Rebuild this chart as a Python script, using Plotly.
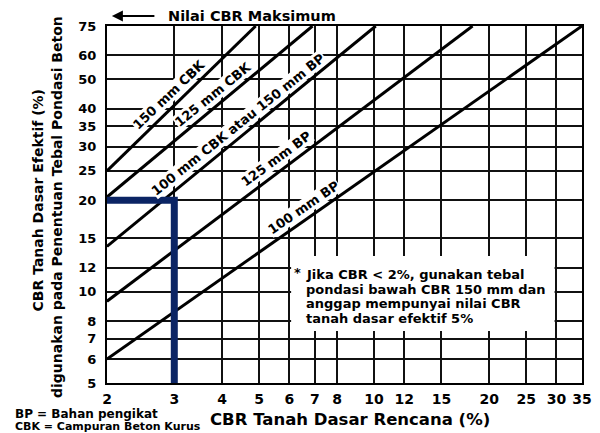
import math
import plotly.graph_objects as go

# Axis tick values (CBR %, logarithmic)
x_ticks = [2, 3, 4, 5, 6, 7, 8, 10, 12, 15, 20, 25, 30, 35]
y_ticks = [5, 6, 7, 8, 10, 12, 15, 20, 25, 30, 35, 40, 50, 60, 75]

# Design lines for sub-base thickness: start at CBR 2 %, end at effective CBR 75 %
line_names = ["150 mm CBK", "125 mm CBK", "100 mm CBK atau 150 mm BP",
              "125 mm BP", "100 mm BP"]
line_x_start = [2, 2, 2, 2, 2]
line_y_start = [25, 20.5, 14.1, 9.3, 6]
line_x_end = [4.9, 6.9, 10.1, 18.1, 35]
line_y_end = [75, 75, 75, 75, 75]
# CBR value (x) along each line where its label sits
label_x = [3.05, 3.95, 4.6, 5.8, 6.8]

# Worked example: design CBR 3 % -> effective CBR 20 %
example_x = [2, 3, 3]
example_y = [20, 20, 5]

note_lines = ["Jika CBR < 2%, gunakan tebal",
              "pondasi bawah CBR 150 mm dan",
              "anggap mempunyai nilai CBR",
              "tanah dasar efektif 5%"]
legend_lines = ["BP = Bahan pengikat", "CBK = Campuran Beton Kurus"]

# Figure geometry (pixels)
FW, FH = 600, 433
ML, MR, MT, MB = 107, 8, 26, 50
PW, PH = FW - ML - MR, FH - MT - MB
XR = [math.log10(2), math.log10(35)]
YR = [math.log10(5), math.log10(75)]


def px_x(px):
    return (px - ML) / PW


def px_y(py):
    return (FH - MB - py) / PH


BOLD = dict(family="DejaVu Sans", color="black", weight="bold")


def text_at(px, py, text, size, anchor="center", **kw):
    return dict(x=px_x(px), y=px_y(py), xref="paper", yref="paper",
                xanchor=anchor, yanchor="middle", text=text, showarrow=False,
                font=dict(size=size, **BOLD), **kw)


fig = go.Figure()

for xs, ys, xe, ye in zip(line_x_start, line_y_start, line_x_end, line_y_end):
    fig.add_trace(go.Scatter(x=[xs, xe], y=[ys, ye], mode="lines",
                             line=dict(color="black", width=3),
                             hoverinfo="skip"))

fig.add_trace(go.Scatter(x=example_x, y=example_y, mode="lines",
                         line=dict(color="#0b2464", width=7),
                         hoverinfo="skip"))

annotations = []

# Labels written along each line, slightly above it
for name, xs, ys, xe, ye, lx in zip(line_names, line_x_start, line_y_start,
                                    line_x_end, line_y_end, label_x):
    t = (math.log10(lx) - math.log10(xs)) / (math.log10(xe) - math.log10(xs))
    ly = 10 ** (math.log10(ys) + t * (math.log10(ye) - math.log10(ys)))
    dxp = (math.log10(xe) - math.log10(xs)) / (XR[1] - XR[0]) * PW
    dyp = (math.log10(ye) - math.log10(ys)) / (YR[1] - YR[0]) * PH
    ang = math.atan2(dyp, dxp)
    d = 11.5
    annotations.append(dict(
        x=math.log10(lx), y=math.log10(ly), xref="x", yref="y",
        xanchor="center", yanchor="middle",
        text=name, showarrow=False, textangle=-math.degrees(ang),
        xshift=-d * math.sin(ang), yshift=d * math.cos(ang),
        font=dict(size=13, **BOLD), bgcolor="white", borderpad=0))

# Note block
annotations.append(text_at(302, 272, "*", 13))
for i, line in enumerate(note_lines):
    annotations.append(text_at(308, 274.5 + i * 14.5, line, 13, anchor="left"))

# Abbreviations
for i, (line, size) in enumerate(zip(legend_lines, [12, 11])):
    annotations.append(text_at(11, 414 + i * 12.5, line, size, anchor="left"))

# Axis titles
annotations.append(text_at(355, 419, "CBR Tanah Dasar Rencana (%)", 16.5))
annotations.append(text_at(37, 200, "CBR Tanah Dasar Efektif (%)", 14,
                           textangle=-90))
annotations.append(text_at(56, 207, "digunakan pada Penentuan Tebal Pondasi Beton",
                           14, textangle=-90))

# Maximum CBR marker above the chart
annotations.append(dict(x=px_x(112), y=px_y(16), xref="paper", yref="paper",
                        ax=44, ay=0, axref="pixel", ayref="pixel", text="",
                        showarrow=True, arrowhead=2, arrowsize=1.1,
                        arrowwidth=2, arrowcolor="black"))
annotations.append(text_at(167, 15.5, "Nilai CBR Maksimum", 14.5, anchor="left"))

axis_common = dict(type="log", showgrid=True, gridcolor="#111111", gridwidth=1.7,
                   showline=True, linecolor="black", linewidth=2, mirror=True,
                   ticks="", zeroline=False)

fig.update_layout(
    width=FW, height=FH,
    margin=dict(l=ML, r=MR, t=MT, b=MB),
    paper_bgcolor="white", plot_bgcolor="white",
    showlegend=False,
    xaxis=dict(range=XR, tickvals=x_ticks, ticktext=[str(v) for v in x_ticks],
               tickfont=dict(size=14, **BOLD), ticklabelstandoff=2,
               **axis_common),
    yaxis=dict(range=YR, tickvals=y_ticks, ticktext=[str(v) for v in y_ticks],
               tickfont=dict(size=13, **BOLD), ticklabelstandoff=6,
               **axis_common),
    shapes=[dict(type="rect", xref="paper", yref="paper",
                 x0=px_x(295), x1=px_x(564), y0=px_y(256), y1=px_y(331),
                 fillcolor="white", line=dict(width=0), layer="above")],
    annotations=annotations,
)

fig.write_html("out.html")
